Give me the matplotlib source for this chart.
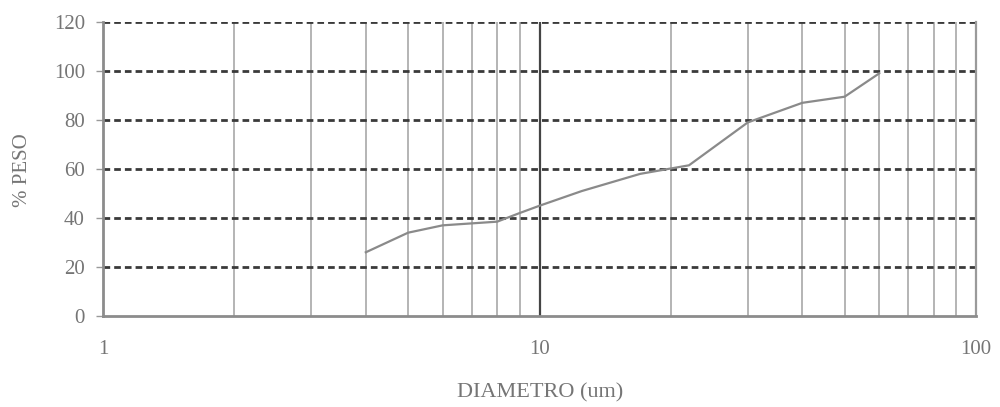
import matplotlib
matplotlib.use("Agg")
import matplotlib.pyplot as plt
from matplotlib.ticker import FixedLocator, NullFormatter

# Particle size distribution (cumulative weight %)
diametro = [4, 5, 6, 8, 9, 10, 12.5, 17, 22, 30, 40, 50, 60]
peso = [26, 34, 37, 38.5, 42, 45, 51, 58, 61.5, 79, 87, 89.5, 99]

y_ticks = [0, 20, 40, 60, 80, 100, 120]
x_ticks = [1, 10, 100]
x_ticklabels = ["1", "10", "100"]

plt.rcParams["font.family"] = ["Liberation Serif", "DejaVu Serif"]
text_color = "#757575"

fig = plt.figure(figsize=(10, 4.07), dpi=100)
ax = fig.add_axes([0.103, 0.2236, 0.873, 0.7224])
ax.set_xscale("log")
ax.set_xlim(1, 100)
ax.set_ylim(0, 120)

# vertical grid: minor decades in light grey, 10 in dark
minor_x = [m * d for d in (1, 10) for m in range(2, 10)]
for xv in minor_x:
    ax.axvline(xv, color="#b4b4b4", lw=1.4, zorder=1)
ax.axvline(10, color="#444444", lw=1.6, zorder=1)

# horizontal dotted grid
for yv in y_ticks[1:]:
    ax.axhline(yv, color="#3a3a3a", lw=2.0, linestyle=(0, (2.4, 1.45)), zorder=2)

ax.plot(diametro, peso, color="#8a8a8a", lw=1.6, zorder=3)

ax.xaxis.set_major_locator(FixedLocator(x_ticks))
ax.xaxis.set_minor_locator(FixedLocator(minor_x))
ax.xaxis.set_minor_formatter(NullFormatter())
ax.set_xticklabels(x_ticklabels)
ax.set_yticks(y_ticks)

ax.tick_params(axis="x", which="both", length=0, pad=17, labelsize=15, labelcolor=text_color)
ax.tick_params(axis="y", length=5, width=1, color="#999999", pad=8, labelsize=15, labelcolor=text_color)

for side in ("left", "bottom"):
    ax.spines[side].set_color("#8c8c8c")
    ax.spines[side].set_linewidth(2.0)
ax.spines["right"].set_color("#9a9a9a")
ax.spines["right"].set_linewidth(1.6)
ax.spines["top"].set_visible(False)

ax.set_xlabel("DIAMETRO (um)", fontsize=16, color=text_color, va="center", ha="center")
ax.xaxis.set_label_coords(0.5006, -0.262)
ax.set_ylabel("% PESO", fontsize=15, color=text_color, va="center", ha="center")
ax.yaxis.set_label_coords(-0.092, 0.497)

fig.savefig("out.png", dpi=100)
